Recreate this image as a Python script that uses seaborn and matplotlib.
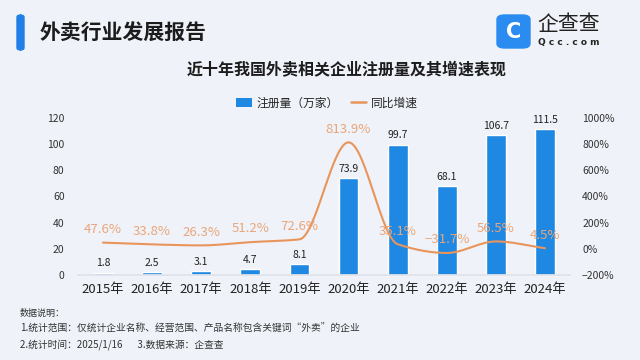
import numpy as np
import pandas as pd
import matplotlib
matplotlib.use("Agg")
import matplotlib.pyplot as plt
import seaborn as sns
from matplotlib.patches import FancyBboxPatch
from matplotlib.lines import Line2D
from matplotlib.patches import Patch

# -----------------------------
# Data
# -----------------------------
years = ["2015年", "2016年", "2017年", "2018年", "2019年",
         "2020年", "2021年", "2022年", "2023年", "2024年"]
registrations = [1.8, 2.5, 3.1, 4.7, 8.1, 73.9, 99.7, 68.1, 106.7, 111.5]
growth = [47.6, 33.8, 26.3, 51.2, 72.6, 813.9, 35.1, -31.7, 56.5, 4.5]

BAR_COLOR = "#1e88e2"
LINE_COLOR = "#e8955c"
LABEL_ORANGE = "#eaa67a"
BG = "#eff2f8"


def monotone_curve(xs, ys, n=30):
    # smooth monotone cubic path through the data points (display only)
    xs = np.asarray(xs, float)
    ys = np.asarray(ys, float)
    h = np.diff(xs)
    d = np.diff(ys) / h
    m = np.zeros_like(ys)
    m[0], m[-1] = d[0], d[-1]
    for k in range(1, len(ys) - 1):
        if d[k - 1] * d[k] <= 0:
            m[k] = 0.0
        else:
            w1 = 2 * h[k] + h[k - 1]
            w2 = h[k] + 2 * h[k - 1]
            m[k] = (w1 + w2) / (w1 / d[k - 1] + w2 / d[k])
    out_x, out_y = [], []
    t = np.linspace(0, 1, n, endpoint=False)
    for k in range(len(xs) - 1):
        h00 = 2 * t ** 3 - 3 * t ** 2 + 1
        h10 = t ** 3 - 2 * t ** 2 + t
        h01 = -2 * t ** 3 + 3 * t ** 2
        h11 = t ** 3 - t ** 2
        out_x.extend(xs[k] + t * h[k])
        out_y.extend(h00 * ys[k] + h10 * h[k] * m[k] + h01 * ys[k + 1] + h11 * h[k] * m[k + 1])
    out_x.append(xs[-1])
    out_y.append(ys[-1])
    return np.array(out_x), np.array(out_y)


sns.set_theme(style="white")
plt.rcParams["font.family"] = ["Noto Sans CJK SC", "DejaVu Sans"]

fig = plt.figure(figsize=(6.4, 3.6), dpi=100, facecolor=BG)

# -----------------------------
# Header
# -----------------------------
fig.patches.append(FancyBboxPatch((17 / 640, 1 - 50 / 360), 7 / 640, 35 / 360,
                                  boxstyle="round,pad=0,rounding_size=0.006",
                                  transform=fig.transFigure, color="#1f7fe6"))
fig.text(40 / 640, 1 - 32 / 360, "外卖行业发展报告", fontsize=15, fontweight="bold",
         color="#1c1c1c", va="center", ha="left")

# logo
fig.patches.append(FancyBboxPatch((497 / 640, 1 - 48 / 360), 33 / 640, 33 / 360,
                                  boxstyle="round,pad=0,rounding_size=0.012",
                                  transform=fig.transFigure, color="#2a8cf0"))
fig.text(513.5 / 640, 1 - 31.5 / 360, "C", fontsize=15, fontweight="bold",
         color="white", ha="center", va="center", family="DejaVu Sans")
fig.text(537 / 640, 1 - 24 / 360, "企查查", fontsize=15, color="#222222",
         ha="left", va="center")
fig.text(538 / 640, 1 - 43 / 360, "Q c c . c o m", fontsize=6.5, color="#222222",
         ha="left", va="center", family="DejaVu Sans", fontweight="bold")

fig.text(347 / 640, 1 - 70 / 360, "近十年我国外卖相关企业注册量及其增速表现",
         fontsize=11.5, fontweight="bold", color="#1c1c1c", ha="center", va="center")

# -----------------------------
# Chart
# -----------------------------
ax = fig.add_axes([78.4 / 640, 1 - 275 / 360, 491.2 / 640, 157 / 360])
ax.set_facecolor("none")
df = pd.DataFrame({"year": years, "reg": registrations, "growth": growth})
sns.barplot(data=df, x="year", y="reg", color=BAR_COLOR, width=0.4,
            saturation=1, ax=ax)
ax.set_xlim(-0.5, 9.5)
ax.set_ylim(0, 120)
ax.set_yticks(range(0, 121, 20))
ax.set_xlabel("")
ax.set_ylabel("")
for s in ["top", "right", "left"]:
    ax.spines[s].set_visible(False)
ax.spines["bottom"].set_color("#dfe3ea")
ax.tick_params(axis="y", length=0, pad=10, labelsize=7.5, labelcolor="#333333")
ax.tick_params(axis="x", length=0, pad=6, labelsize=9.5, labelcolor="#222222")

for i, v in enumerate(registrations):
    ax.annotate(f"{v}", (i, v), xytext=(0, 3), textcoords="offset points",
                ha="center", va="bottom", fontsize=7.5, color="#222222")

ax2 = ax.twinx()
ax2.set_ylim(-200, 1000)
ax2.set_yticks(range(-200, 1001, 200))
ax2.set_yticklabels([f"{t}%".replace("-", "−") for t in range(-200, 1001, 200)])
for s in ax2.spines.values():
    s.set_visible(False)
ax2.tick_params(axis="y", length=0, pad=9, labelsize=7.5, labelcolor="#333333")
ax2.grid(False)

sx, sy = monotone_curve(range(len(growth)), growth)
ax2.plot(sx, sy, color=LINE_COLOR, lw=1.5)
for i, g in enumerate(growth):
    txt = f"{g}%".replace("-", "−")
    ax2.annotate(txt, (i, g), xytext=(0, 9.5), textcoords="offset points",
                 ha="center", va="center", fontsize=9.5, color=LABEL_ORANGE)

# legend
handles = [Patch(facecolor=BAR_COLOR, edgecolor="none"),
           Line2D([0], [0], color=LINE_COLOR, lw=1.8)]
fig.legend(handles, ["注册量（万家）", "同比增速"], loc="center",
           bbox_to_anchor=(327 / 640, 1 - 103 / 360), ncol=2, frameon=False,
           fontsize=8.5, handlelength=1.3, handleheight=0.8, columnspacing=1.0,
           handletextpad=0.4)

# -----------------------------
# Footnote
# -----------------------------
fig.text(20 / 640, 1 - 313 / 360, "数据说明：", fontsize=6.5, color="#333333",
         ha="left", va="center")
fig.text(20 / 640, 1 - 329 / 360,
         "1.统计范围：仅统计企业名称、经营范围、产品名称包含关键词“外卖”的企业",
         fontsize=7, color="#333333", ha="left", va="center")
fig.text(20 / 640, 1 - 345 / 360, "2.统计时间：2025/1/16       3.数据来源：企查查",
         fontsize=7, color="#333333", ha="left", va="center")

fig.savefig("out.png", dpi=100, facecolor=BG)
